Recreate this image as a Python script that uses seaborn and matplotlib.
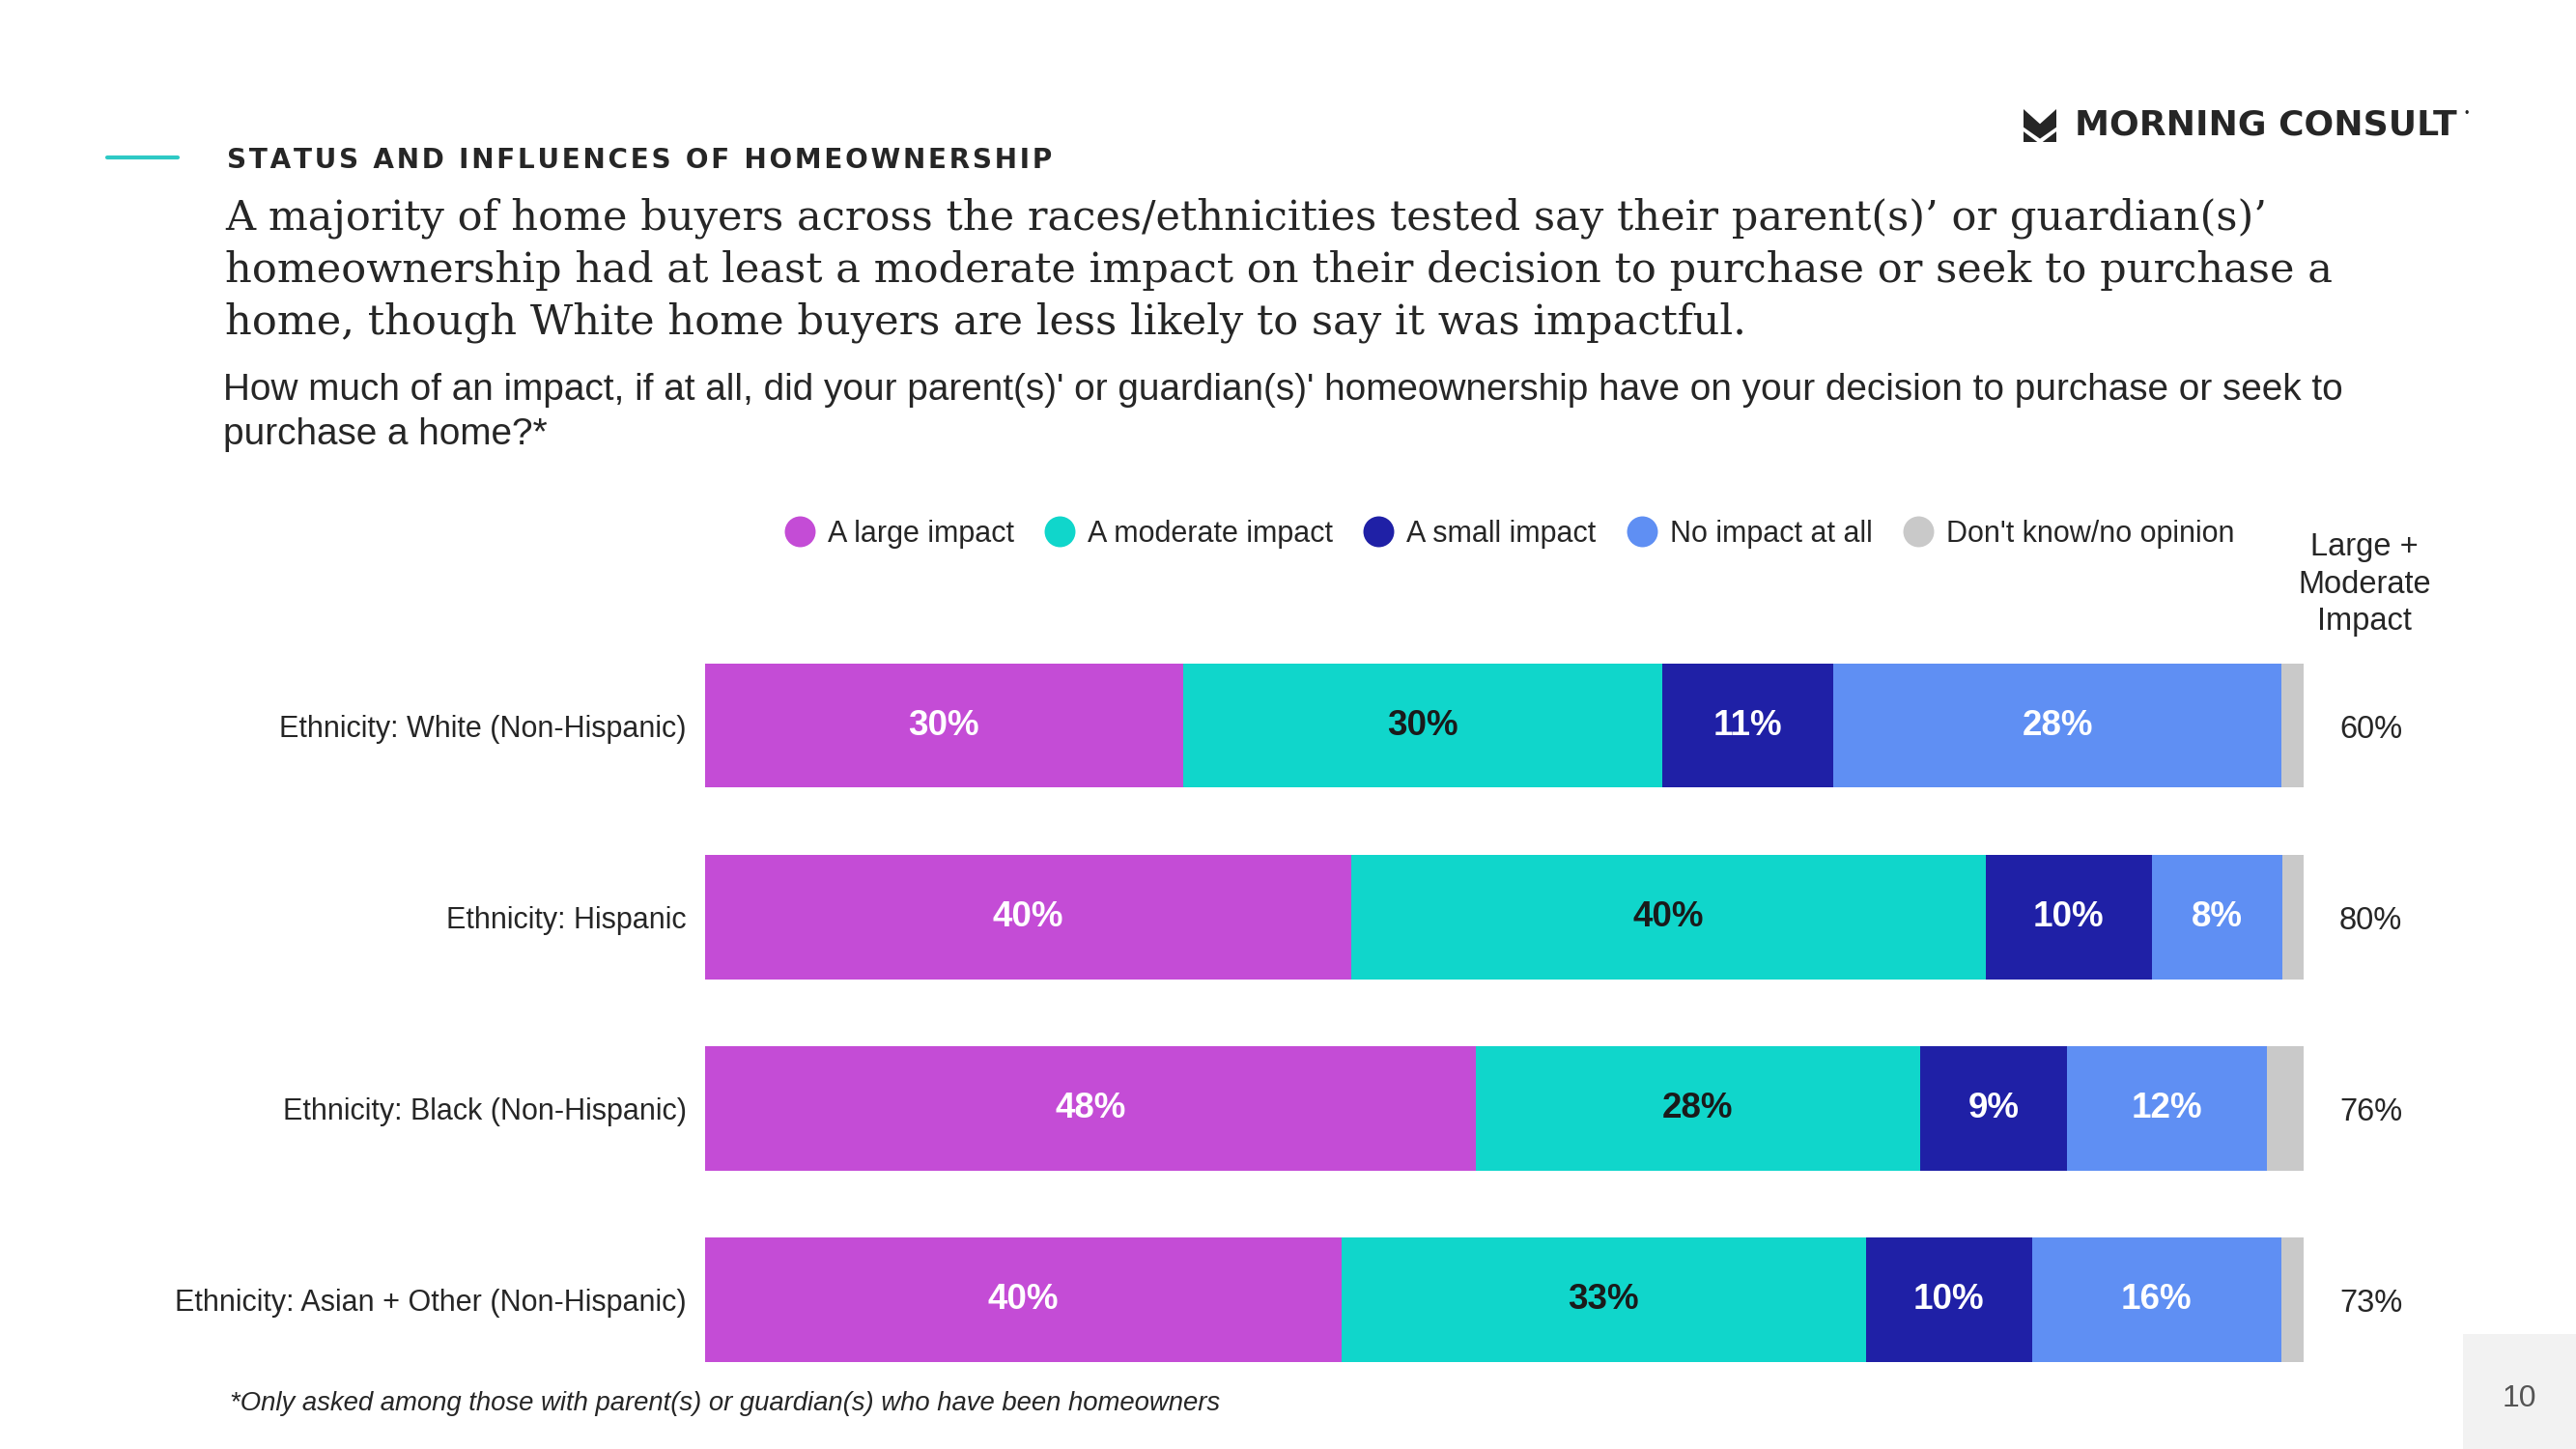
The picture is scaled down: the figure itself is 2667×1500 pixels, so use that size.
import matplotlib
matplotlib.use("Agg")
import matplotlib.pyplot as plt
from matplotlib.lines import Line2D
from matplotlib.patches import Polygon, Rectangle
import numpy as np
import pandas as pd
import seaborn as sns

# data
categories = [
    "Ethnicity: White (Non-Hispanic)",
    "Ethnicity: Hispanic",
    "Ethnicity: Black (Non-Hispanic)",
    "Ethnicity: Asian + Other (Non-Hispanic)",
]
responses = [
    "A large impact",
    "A moderate impact",
    "A small impact",
    "No impact at all",
    "Don't know/no opinion",
]
large_impact = [29.9, 40.4, 48.2, 39.8]
moderate_impact = [30.0, 39.7, 27.8, 32.8]
small_impact = [10.7, 10.4, 9.2, 10.4]
no_impact = [28.0, 8.2, 12.5, 15.6]
dont_know = [1.4, 1.3, 2.3, 1.4]
segment_labels = [
    ["30%", "40%", "48%", "40%"],
    ["30%", "40%", "28%", "33%"],
    ["11%", "10%", "9%", "10%"],
    ["28%", "8%", "12%", "16%"],
]
large_moderate = [60, 80, 76, 73]

colors = ["#C44CD6", "#10D6CB", "#1F20A6", "#5F8FF3", "#C9C9C9"]
label_colors = ["white", "#1A1A1A", "white", "white"]

W, H = 2667, 1500


def fx(x):
    return x / W


def fy(y):
    return 1 - y / H


sns.set_theme(style="white")
plt.rcParams["font.family"] = ["Liberation Sans", "DejaVu Sans"]

fig = plt.figure(figsize=(W / 100, H / 100), dpi=100)
fig.patch.set_facecolor("white")

# axes placed so that bars sit where they do in the slide
ax = fig.add_axes([fx(730), fy(1444.5), (2385 - 730) / W, (1444.5 - 652) / H])

df = pd.DataFrame({
    "category": categories,
    responses[0]: large_impact,
    responses[1]: moderate_impact,
    responses[2]: small_impact,
    responses[3]: no_impact,
    responses[4]: dont_know,
})
cumulative = df[responses].cumsum(axis=1)

# draw longest cumulative first so shorter segments sit on top
for i in reversed(range(len(responses))):
    sns.barplot(
        x=cumulative[responses[i]],
        y=df["category"],
        orient="h",
        color=colors[i],
        saturation=1,
        width=0.65,
        linewidth=0,
        ax=ax,
    )

ax.set_xlim(0, 100)
ax.set_ylim(3.5, -0.5)
ax.set_xlabel("")
ax.set_ylabel("")
ax.set_xticks([])
for spine in ax.spines.values():
    spine.set_visible(False)
ax.tick_params(axis="y", left=False, pad=8, labelsize=22, labelcolor="#262626")

# segment labels
starts = np.zeros(len(categories))
for i, col in enumerate(responses[:4]):
    values = df[col].to_numpy()
    for row, (start, val) in enumerate(zip(starts, values)):
        ax.text(
            start + val / 2, row, segment_labels[i][row],
            ha="center", va="center", fontsize=26.5, fontweight="bold",
            color=label_colors[i],
        )
    starts = starts + values

# large + moderate column
for row, val in enumerate(large_moderate):
    ax.text(104.2, row + 0.02, f"{val}%", ha="center", va="center",
            fontsize=23.5, color="#262626", clip_on=False)
fig.text(fx(2448), fy(605), "Large +\nModerate\nImpact", ha="center", va="center",
         fontsize=23.5, color="#262626", linespacing=1.3)

# legend
handles = [
    Line2D([0], [0], marker="o", linestyle="none", markersize=23,
           markerfacecolor=c, markeredgewidth=0)
    for c in colors
]
fig.legend(
    handles, responses, loc="center", bbox_to_anchor=(fx(1563), fy(553)),
    ncol=5, frameon=False, fontsize=22, handletextpad=0.45,
    columnspacing=1.05, handlelength=1.0, labelcolor="#262626",
)

# header
fig.add_artist(Line2D([fx(111), fx(184)], [fy(163), fy(163)], color="#2EC9C5", linewidth=3))
fig.text(fx(235), fy(166), "\u200a".join("STATUS AND INFLUENCES OF HOMEOWNERSHIP"),
         ha="left", va="center", fontsize=20.05, fontweight="bold",
         color="#262626", family=["DejaVu Sans"])

title_lines = [
    "A majority of home buyers across the races/ethnicities tested say their parent(s)\u2019 or guardian(s)\u2019",
    "homeownership had at least a moderate impact on their decision to purchase or seek to purchase a",
    "home, though White home buyers are less likely to say it was impactful.",
]
for k, line in enumerate(title_lines):
    fig.text(fx(233), fy(226 + 54 * k), line, ha="left", va="center",
             fontsize=31.1, color="#262626", family=["DejaVu Serif"])

subtitle_lines = [
    "How much of an impact, if at all, did your parent(s)' or guardian(s)' homeownership have on your decision to purchase or seek to",
    "purchase a home?*",
]
for k, line in enumerate(subtitle_lines):
    fig.text(fx(231), fy(404 + 46 * k), line, ha="left", va="center",
             fontsize=27.9, color="#262626")

# footnote
fig.text(fx(238), fy(1453), "*Only asked among those with parent(s) or guardian(s) who have been homeowners",
         ha="left", va="center", fontsize=19.85, style="italic", color="#262626")

# logo
x0, y0, s = 2095, 113, 34
upper = [(0, 0), (0.5, 0.45), (1, 0), (1, 0.55), (0.5, 0.9), (0, 0.55)]
left_tri = [(0, 0.68), (0.42, 1), (0, 1)]
right_tri = [(1, 0.68), (0.58, 1), (1, 1)]
for shape in (upper, left_tri, right_tri):
    pts = [(fx(x0 + px * s), fy(y0 + py * s)) for px, py in shape]
    fig.add_artist(Polygon(pts, closed=True, facecolor="#262626", edgecolor="none"))
fig.text(fx(2148), fy(130), "MORNING CONSULT", ha="left", va="center",
         fontsize=26, fontweight="bold", color="#262626", family=["DejaVu Sans"])
fig.text(fx(2552), fy(118), "\u2022", ha="left", va="center", fontsize=9, color="#262626")

# page number box
fig.add_artist(Rectangle((fx(2550), 0), 1 - fx(2550), fy(1381), facecolor="#F2F2F2",
                         edgecolor="none"))
fig.text(fx(2608), fy(1448), "10", ha="center", va="center", fontsize=23, color="#555555")

fig.savefig("out.png", dpi=100, facecolor="white")
